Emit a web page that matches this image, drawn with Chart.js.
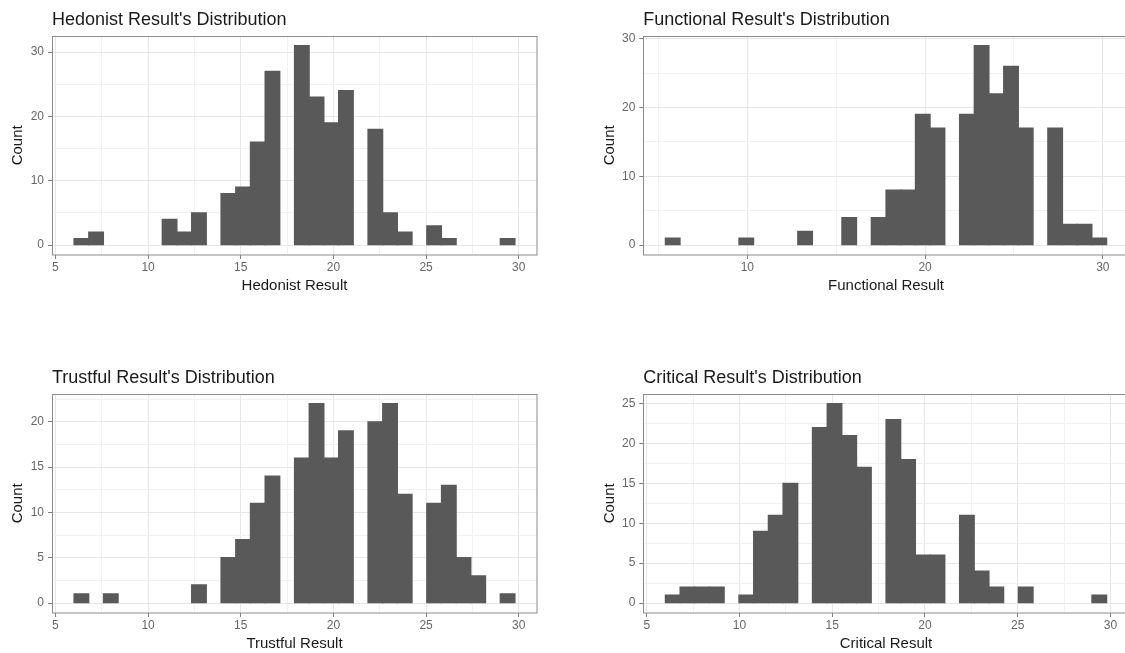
<!DOCTYPE html>
<html>
<head>
<meta charset="utf-8">
<script src="https://cdn.jsdelivr.net/npm/chart.js@4.4.1/dist/chart.umd.min.js"></script>
<style>
  html, body { margin: 0; padding: 0; background: #fff; overflow: hidden; width: 1125px; height: 653px; }
  canvas { position: absolute; }
</style>
</head>
<body>
<canvas id="hedonist" width="562" height="300" style="left:0px;top:0px"></canvas>
<canvas id="functional" width="590" height="300" style="left:562px;top:0px"></canvas>
<canvas id="trustful" width="562" height="300" style="left:0px;top:358px"></canvas>
<canvas id="critical" width="590" height="300" style="left:562px;top:358px"></canvas>
<script>
// bin centres (30 bins, ggplot default)
const binsA = [6.400, 7.193, 7.986, 8.779, 9.572, 10.366, 11.159, 11.952, 12.745, 13.538,
    14.331, 15.124, 15.917, 16.710, 17.503, 18.297, 19.090, 19.883, 20.676, 21.469,
    22.262, 23.055, 23.848, 24.641, 25.434, 26.228, 27.021, 27.814, 28.607, 29.400];
const binsFunctional = [5.800, 6.628, 7.455, 8.283, 9.110, 9.938, 10.766, 11.593, 12.421, 13.248,
    14.076, 14.903, 15.731, 16.559, 17.386, 18.214, 19.041, 19.869, 20.697, 21.524,
    22.352, 23.179, 24.007, 24.834, 25.662, 26.490, 27.317, 28.145, 28.972, 29.800];

// counts
const hedonistCounts = [1, 2, 0, 0, 0, 0, 4, 2, 5, 0, 8, 9, 16, 27, 0, 31, 23, 19, 24, 0, 18, 5, 2, 0, 3, 1, 0, 0, 0, 1];
const functionalCounts = [1, 0, 0, 0, 0, 1, 0, 0, 0, 2, 0, 0, 4, 0, 4, 8, 8, 19, 17, 0, 19, 29, 22, 26, 17, 0, 17, 3, 3, 1];
const trustfulCounts = [1, 0, 1, 0, 0, 0, 0, 0, 2, 0, 5, 7, 11, 14, 0, 16, 22, 16, 19, 0, 20, 22, 12, 0, 11, 13, 5, 3, 0, 1];
const criticalCounts = [1, 2, 2, 2, 0, 1, 9, 11, 15, 0, 22, 25, 21, 17, 0, 23, 18, 6, 6, 0, 11, 4, 2, 0, 2, 0, 0, 0, 0, 1];

// tick labels
const xTicksA = [5, 10, 15, 20, 25, 30];
const xMinorA = [7.5, 12.5, 17.5, 22.5, 27.5];
const xTicksFunctional = [10, 20, 30];
const xMinorFunctional = [5, 15, 25];
const yTicks30 = [0, 10, 20, 30];
const yMinor30 = [5, 15, 25];
const yTicksTrustful = [0, 5, 10, 15, 20];
const yTicksCritical = [0, 5, 10, 15, 20, 25];
const yMinorHalf = [2.5, 7.5, 12.5, 17.5, 22.5];

const FONT = "'Liberation Sans', Arial, Helvetica, sans-serif";

const panelBorder = {
    id: 'panelBorder',
    afterDatasetsDraw(chart) {
        const a = chart.chartArea;
        const ctx = chart.ctx;
        ctx.save();
        ctx.strokeStyle = '#8c8c8c';
        ctx.lineWidth = 1;
        const l = Math.round(a.left) + 0.5, t = Math.round(a.top) + 0.5;
        ctx.strokeRect(l, t, Math.round(a.right) - l, Math.round(a.bottom) - t);
        ctx.restore();
    }
};

function histogram(id, title, xTitle, bins, counts, xRange, yRange, xMajor, xMinor, yMajor, yMinor, right) {
    const ctx = document.getElementById(id).getContext('2d');
    const leftPad = right ? 30 : 0;
    const yWidth = right ? 51.3 : 52;
    const rightPad = right ? 23.3 : 25;
    const allX = xMajor.concat(xMinor).sort((a, b) => a - b);
    const allY = yMajor.concat(yMinor).sort((a, b) => a - b);

    new Chart(ctx, {
        type: 'bar',
        data: {
            datasets: [{
                data: bins.map((b, i) => ({ x: b, y: counts[i] })),
                backgroundColor: '#595959',
                borderWidth: 0,
                // small overlap so neighbouring bins have no seam, empty bins stay invisible
                inflateAmount: c => (c.raw && c.raw.y > 0) ? 0.6 : 0,
                barPercentage: 1,
                categoryPercentage: 1
            }]
        },
        options: {
            responsive: false,
            animation: false,
            devicePixelRatio: 1,
            layout: { padding: { left: leftPad, right: rightPad, top: 0, bottom: 0 } },
            plugins: {
                legend: { display: false },
                tooltip: { enabled: false },
                title: {
                    display: true,
                    text: title,
                    align: 'start',
                    fullSize: false,
                    color: '#1a1a1a',
                    font: { family: FONT, size: 18, weight: 'normal' },
                    padding: { top: 9.2, bottom: 4.9 }
                }
            },
            scales: {
                x: {
                    type: 'linear',
                    min: xRange[0],
                    max: xRange[1],
                    offset: false,
                    afterBuildTicks: s => { s.ticks = allX.map(v => ({ value: v })); },
                    afterFit: s => { s.height = 45; },
                    grid: {
                        offset: false,
                        drawTicks: true,
                        tickLength: 4,
                        color: c => xMajor.includes(c.tick.value) ? '#e6e6e6' : '#f1f1f1',
                        tickColor: c => xMajor.includes(c.tick.value) ? '#7f7f7f' : 'rgba(0,0,0,0)'
                    },
                    border: { display: false },
                    ticks: {
                        autoSkip: false,
                        maxRotation: 0,
                        padding: 1.5,
                        color: '#666666',
                        font: { family: FONT, size: 12 },
                        callback: v => xMajor.includes(v) ? String(v) : ''
                    },
                    title: {
                        display: true,
                        text: xTitle,
                        color: '#1a1a1a',
                        font: { family: FONT, size: 15 },
                        padding: { top: 0, bottom: 5.5 }
                    }
                },
                y: {
                    min: yRange[0],
                    max: yRange[1],
                    afterBuildTicks: s => { s.ticks = allY.map(v => ({ value: v })); },
                    afterFit: s => { s.width = yWidth; },
                    grid: {
                        drawTicks: true,
                        tickLength: 4,
                        color: c => yMajor.includes(c.tick.value) ? '#e6e6e6' : '#f1f1f1',
                        tickColor: c => yMajor.includes(c.tick.value) ? '#7f7f7f' : 'rgba(0,0,0,0)'
                    },
                    border: { display: false },
                    ticks: {
                        autoSkip: false,
                        padding: 4,
                        color: '#666666',
                        font: { family: FONT, size: 12 },
                        callback: v => yMajor.includes(v) ? String(v) : ''
                    },
                    title: {
                        display: true,
                        text: 'Count',
                        color: '#1a1a1a',
                        font: { family: FONT, size: 15 },
                        padding: { top: 9, bottom: 0 }
                    }
                }
            }
        },
        plugins: [panelBorder]
    });
}

histogram('hedonist', "Hedonist Result's Distribution", 'Hedonist Result', binsA, hedonistCounts,
    [4.814, 30.986], [-1.55, 32.55], xTicksA, xMinorA, yTicks30, yMinor30, false);
histogram('functional', "Functional Result's Distribution", 'Functional Result', binsFunctional, functionalCounts,
    [4.145, 31.455], [-1.45, 30.45], xTicksFunctional, xMinorFunctional, yTicks30, yMinor30, true);
histogram('trustful', "Trustful Result's Distribution", 'Trustful Result', binsA, trustfulCounts,
    [4.814, 30.986], [-1.1, 23.1], xTicksA, xMinorA, yTicksTrustful, yMinorHalf, false);
histogram('critical', "Critical Result's Distribution", 'Critical Result', binsA, criticalCounts,
    [4.814, 30.986], [-1.25, 26.25], xTicksA, xMinorA, yTicksCritical, yMinorHalf, true);
</script>
</body>
</html>
